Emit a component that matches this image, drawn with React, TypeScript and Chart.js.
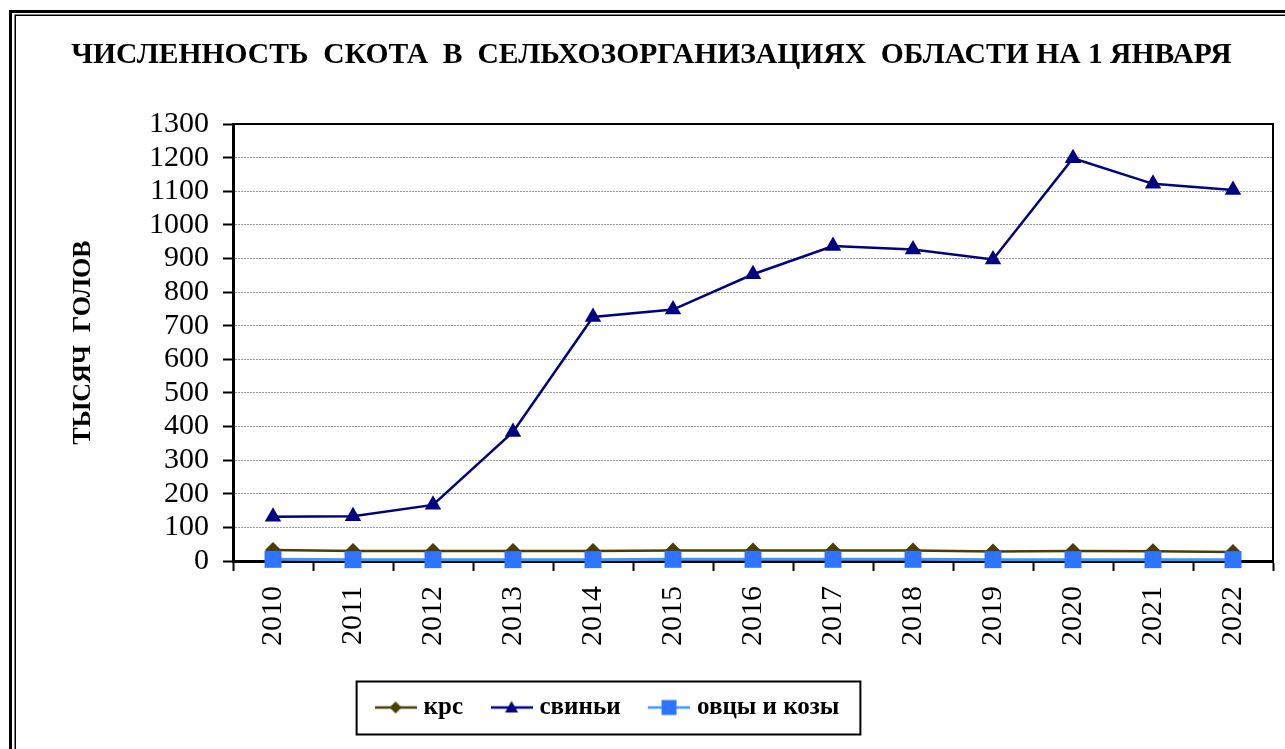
import React, { useEffect, useRef } from 'react';
import { Chart, registerables } from 'chart.js';

Chart.register(...registerables);

const years = ['2010', '2011', '2012', '2013', '2014', '2015', '2016', '2017', '2018', '2019', '2020', '2021', '2022'];
const cattle = [33, 30, 30, 30, 30, 31, 31, 31, 31, 28, 30, 29, 27];
const pigs = [132, 133, 167, 384, 726, 748, 853, 937, 927, 897, 1198, 1122, 1104];
const sheepGoats = [5, 4, 4, 4, 4, 5, 5, 5, 5, 4, 4, 4, 4];
const seriesNames = ['крс', 'свиньи', 'овцы и козы'];
const yMin = 0;
const yMax = 1300;
const yStep = 100;
const chartTitle = 'ЧИСЛЕННОСТЬ  СКОТА  В  СЕЛЬХОЗОРГАНИЗАЦИЯХ  ОБЛАСТИ НА 1 ЯНВАРЯ';
const yAxisTitle = 'ТЫСЯЧ  ГОЛОВ';

const SERIF = '"Liberation Serif", "Times New Roman", serif';
const cattleColor = '#4A3E00';
const pigColor = '#000080';
const sheepLine = '#3C96FF';
const sheepPoint = '#2E74FF';
const ICON_OFFSET = 5.5;

function makeIcon(lineColor: string, fill: string, shape: string): HTMLCanvasElement {
  const c = document.createElement('canvas');
  c.width = 42;
  c.height = 18;
  const g = c.getContext('2d') as CanvasRenderingContext2D;
  g.strokeStyle = lineColor;
  g.lineWidth = 2.5;
  g.beginPath();
  g.moveTo(0, 9);
  g.lineTo(42, 9);
  g.stroke();
  g.fillStyle = fill;
  g.beginPath();
  if (shape === 'diamond') {
    g.moveTo(21, 3); g.lineTo(27, 9); g.lineTo(21, 15); g.lineTo(15, 9);
  } else if (shape === 'triangle') {
    g.moveTo(21, 2.5); g.lineTo(27.5, 14); g.lineTo(14.5, 14);
  } else {
    g.rect(13.5, 1.5, 15, 15);
  }
  g.closePath();
  g.fill();
  return c;
}

const framesPlugin = {
  id: 'frames',
  beforeDraw(chart: any) {
    const { ctx, width, height } = chart;
    ctx.save();
    ctx.fillStyle = '#ffffff';
    ctx.fillRect(0, 0, width, height);
    ctx.strokeStyle = '#000';
    ctx.lineWidth = 3;
    ctx.strokeRect(10.5, 11.5, width + 40, height + 40);
    ctx.lineWidth = 1.5;
    ctx.strokeRect(15.25, 15.25, width + 40, height + 40);
    ctx.restore();
  },
  beforeDatasetsDraw(chart: any) {
    const { ctx, chartArea: a } = chart;
    ctx.save();
    ctx.strokeStyle = '#000';
    ctx.lineWidth = 2;
    ctx.strokeRect(a.left, a.top, a.right - a.left, a.bottom - a.top);
    ctx.restore();
  },
  afterUpdate(chart: any) {
    const lg = chart.legend;
    if (lg && lg.legendHitBoxes && lg.legendHitBoxes.length) {
      const boxes = lg.legendHitBoxes;
      const first = boxes[0];
      const last = boxes[boxes.length - 1];
      const cur = (first.left - ICON_OFFSET + last.left + last.width) / 2;
      const d = 607 - cur;
      lg.left += d;
      lg.right += d;
      boxes.forEach((b: any) => { b.left += d; });
    }
    const tb = chart.titleBlock;
    if (tb) {
      tb.left += 6;
      tb.right += 6;
    }
  },
  afterDraw(chart: any) {
    const lg = chart.legend;
    if (!lg || !lg.legendHitBoxes || !lg.legendHitBoxes.length) return;
    const boxes = lg.legendHitBoxes;
    const first = boxes[0];
    const last = boxes[boxes.length - 1];
    const cy = first.top + first.height / 2;
    const x0 = first.left - ICON_OFFSET - 18;
    const x1 = last.left + last.width + 21;
    const { ctx } = chart;
    ctx.save();
    ctx.strokeStyle = '#000';
    ctx.lineWidth = 2;
    ctx.strokeRect(x0, cy - 26, x1 - x0, 53);
    ctx.restore();
  },
};

export default function App() {
  const ref = useRef<HTMLCanvasElement | null>(null);

  useEffect(() => {
    const canvas = ref.current;
    if (!canvas) return;
    const icons = [
      makeIcon(cattleColor, cattleColor, 'diamond'),
      makeIcon(pigColor, pigColor, 'triangle'),
      makeIcon(sheepLine, sheepPoint, 'square'),
    ];
    const chart = new Chart(canvas, {
      type: 'line',
      data: {
        labels: years,
        datasets: [
          {
            label: seriesNames[0],
            data: cattle,
            borderColor: cattleColor,
            backgroundColor: cattleColor,
            borderWidth: 2.5,
            pointStyle: 'rectRot',
            pointRadius: 8,
            pointBackgroundColor: cattleColor,
            pointBorderColor: cattleColor,
            pointBorderWidth: 0,
            tension: 0,
            clip: false,
            order: 2,
          },
          {
            label: seriesNames[1],
            data: pigs,
            borderColor: pigColor,
            backgroundColor: pigColor,
            borderWidth: 2.5,
            pointStyle: 'triangle',
            pointRadius: 9.5,
            pointBackgroundColor: pigColor,
            pointBorderColor: pigColor,
            pointBorderWidth: 0,
            tension: 0,
            clip: false,
            order: 1,
          },
          {
            label: seriesNames[2],
            data: sheepGoats,
            borderColor: sheepLine,
            backgroundColor: sheepPoint,
            borderWidth: 3,
            pointStyle: 'rect',
            pointRadius: 12,
            pointBackgroundColor: sheepPoint,
            pointBorderColor: sheepPoint,
            pointBorderWidth: 0,
            tension: 0,
            clip: false,
            order: 0,
          },
        ],
      },
      options: {
        responsive: false,
        animation: false,
        events: [],
        layout: { padding: { left: 17, right: 11, top: 17, bottom: 19 } },
        plugins: {
          title: {
            display: true,
            text: chartTitle,
            color: '#000',
            font: { family: SERIF, size: 29.6, weight: 'bold' },
            padding: { top: 21, bottom: 50.5 },
          },
          legend: {
            display: true,
            position: 'bottom',
            labels: {
              usePointStyle: true,
              pointStyleWidth: 31,
              padding: 33,
              color: '#000',
              font: { family: SERIF, size: 25, weight: 'bold' },
              generateLabels: (c: any) =>
                c.data.datasets.map((ds: any, i: number) => ({
                  text: ds.label,
                  pointStyle: icons[i],
                  fillStyle: ds.backgroundColor,
                  strokeStyle: ds.borderColor,
                  lineWidth: 0,
                  hidden: false,
                  datasetIndex: i,
                  fontColor: '#000',
                })),
            },
          },
          tooltip: { enabled: false },
        },
        scales: {
          x: {
            type: 'category',
            offset: true,
            afterFit: (s: any) => { s.height = 101; },
            grid: {
              offset: true,
              drawOnChartArea: false,
              drawTicks: true,
              tickLength: 10,
              tickColor: '#000',
              tickWidth: 2,
            },
            border: { display: true, color: '#000', width: 3 },
            ticks: {
              autoSkip: false,
              minRotation: 90,
              maxRotation: 90,
              padding: 15,
              color: '#000',
              font: { family: SERIF, size: 30 },
            },
          },
          y: {
            type: 'linear',
            min: yMin,
            max: yMax,
            afterFit: (s: any) => { s.width = 216; },
            ticks: {
              stepSize: yStep,
              autoSkip: false,
              padding: 14,
              color: '#000',
              font: { family: SERIF, size: 30 },
              callback: (v: any) => String(v),
            },
            grid: {
              color: '#9a9a9a',
              lineWidth: 1,
              drawOnChartArea: true,
              drawTicks: true,
              tickLength: 10,
              tickColor: '#000',
              tickWidth: 2,
            },
            border: { display: true, color: '#000', width: 3, dash: [2, 1] },
            title: {
              display: true,
              text: yAxisTitle,
              color: '#000',
              font: { family: SERIF, size: 26, weight: 'bold' },
              padding: { top: 51, bottom: 0 },
            },
          },
        },
      },
      plugins: [framesPlugin],
    } as any);
    return () => chart.destroy();
  }, []);

  return (
    <div style={{ position: 'fixed', left: 0, top: 0, width: 1285, height: 749, background: '#fff' }}>
      <canvas ref={ref} width={1285} height={749} style={{ display: 'block', width: 1285, height: 749 }} />
    </div>
  );
}
